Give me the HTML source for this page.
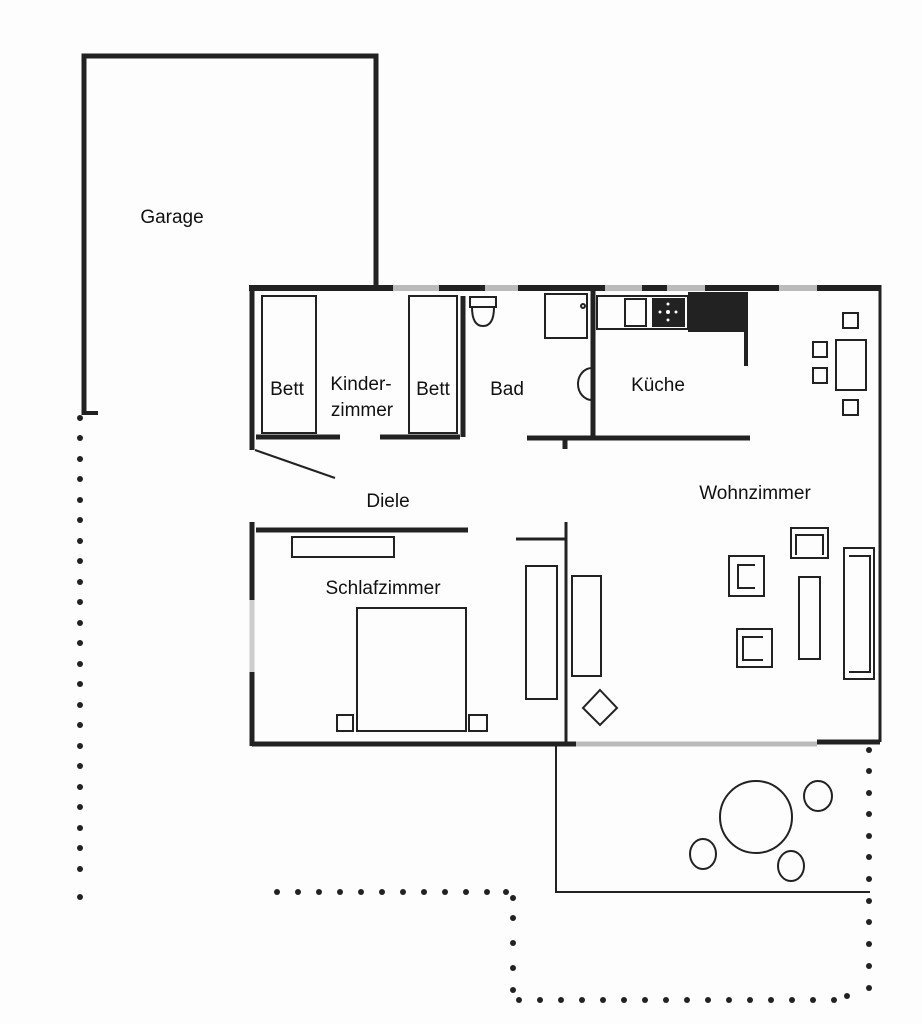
<!DOCTYPE html>
<html><head><meta charset="utf-8"><style>
html,body{margin:0;padding:0;background:#fff;}
svg{display:block}
text{font-family:"Liberation Sans",Arial,sans-serif;font-size:19px;fill:#111}
</style></head><body>
<svg width="922" height="1024" viewBox="0 0 922 1024" xmlns="http://www.w3.org/2000/svg">
<rect width="922" height="1024" fill="#fdfdfd"/>
<g stroke="#222" fill="none">
<!-- Garage -->
<path d="M84 415 V56 H376 V286" stroke-width="5"/>
<line x1="84" y1="413" x2="98" y2="413" stroke-width="4"/>
<!-- top wall -->
<g stroke-width="6">
<line x1="249" y1="288" x2="393" y2="288"/>
<line x1="439" y1="288" x2="485" y2="288"/>
<line x1="518" y1="288" x2="605" y2="288"/>
<line x1="642" y1="288" x2="667" y2="288"/>
<line x1="705" y1="288" x2="779" y2="288"/>
<line x1="817" y1="288" x2="880" y2="288"/>
</g>
<g stroke="#bbb" stroke-width="6">
<line x1="393" y1="288" x2="439" y2="288"/>
<line x1="485" y1="288" x2="518" y2="288"/>
<line x1="605" y1="288" x2="642" y2="288"/>
<line x1="667" y1="288" x2="705" y2="288"/>
<line x1="779" y1="288" x2="817" y2="288"/>
</g>
<!-- right wall -->
<line x1="880" y1="285" x2="880" y2="742" stroke-width="3"/>
<!-- left upper wall -->
<line x1="252" y1="286" x2="252" y2="450" stroke-width="5"/>
<!-- inner walls -->
<g stroke-width="5">
<line x1="256" y1="437" x2="340" y2="437"/>
<line x1="380" y1="437" x2="460" y2="437"/>
<line x1="463" y1="296" x2="463" y2="437"/>
<line x1="527" y1="438" x2="750" y2="438"/>
<line x1="565" y1="438" x2="565" y2="449"/>
<line x1="593" y1="291" x2="593" y2="438"/>
<line x1="252" y1="522" x2="252" y2="600"/>
<line x1="252" y1="672" x2="252" y2="746"/>
<line x1="256" y1="530" x2="468" y2="530"/>
<line x1="252" y1="744" x2="576" y2="744"/>
<line x1="817" y1="742" x2="880" y2="742"/>
</g>
<line x1="252" y1="600" x2="252" y2="672" stroke="#ccc" stroke-width="5"/>
<line x1="576" y1="744" x2="817" y2="744" stroke="#bbb" stroke-width="5"/>
<line x1="516" y1="539" x2="566" y2="539" stroke-width="3"/>
<line x1="566" y1="522" x2="566" y2="744" stroke-width="3"/>
<line x1="255" y1="450" x2="335" y2="478" stroke-width="2"/>
<!-- beds kinder -->
<g stroke-width="2">
<rect x="262" y="296" width="54" height="137"/>
<rect x="409" y="296" width="48" height="137"/>
<!-- toilet -->
<rect x="470" y="297" width="26" height="10"/>
<path d="M472 307 Q472 326 483 326 Q494 326 494 307"/>
<!-- shower -->
<rect x="545" y="294" width="42" height="44"/>
<circle cx="583" cy="306" r="2"/>
<!-- sink -->
<path d="M592 368 A14 16 0 0 0 592 400"/>
<!-- kitchen -->
<rect x="597" y="296" width="91" height="33"/>
<rect x="625" y="299" width="21" height="27"/>
<line x1="746" y1="292" x2="746" y2="366" stroke-width="4"/>
<!-- dining -->
<rect x="836" y="340" width="30" height="50"/>
<rect x="843" y="313" width="15" height="15"/>
<rect x="813" y="342" width="14" height="15"/>
<rect x="813" y="368" width="14" height="15"/>
<rect x="843" y="400" width="15" height="15"/>
<!-- schlaf -->
<rect x="292" y="537" width="102" height="20"/>
<rect x="357" y="608" width="109" height="123"/>
<rect x="337" y="715" width="16" height="16"/>
<rect x="469" y="715" width="18" height="16"/>
<rect x="526" y="566" width="31" height="133"/>
<rect x="572" y="576" width="29" height="100"/>
<path d="M600 690 L617 708 L600 725 L583 708 Z"/>
<!-- living -->
<rect x="729" y="556" width="35" height="40"/>
<path d="M755 565 H738 V588 H755"/>
<rect x="791" y="528" width="37" height="30"/>
<path d="M796 555 V535 H823 V555"/>
<rect x="737" y="629" width="35" height="38"/>
<path d="M763 637 H743 V660 H763"/>
<rect x="799" y="577" width="21" height="82"/>
<rect x="844" y="548" width="30" height="131"/>
<path d="M849 556 H870 V672 H849"/>
<!-- terrace -->
<path d="M556 745 V892 H870"/>
<circle cx="756" cy="817" r="36"/>
<ellipse cx="818" cy="796" rx="14" ry="15"/>
<ellipse cx="703" cy="854" rx="13" ry="15"/>
<ellipse cx="791" cy="866" rx="13" ry="15"/>
</g>
</g>
<rect x="652" y="298" width="33" height="29" fill="#222"/>
<circle cx="668" cy="312" r="2" fill="#fff"/><circle cx="660" cy="312" r="1.5" fill="#fff"/><circle cx="676" cy="312" r="1.5" fill="#fff"/><circle cx="668" cy="304" r="1.5" fill="#fff"/><circle cx="668" cy="320" r="1.5" fill="#fff"/>
<rect x="688" y="292" width="60" height="40" fill="#222"/>
<!-- dots -->
<g fill="#222" id="dots">
<circle cx="80" cy="418" r="3"/><circle cx="80" cy="438" r="3"/><circle cx="80" cy="459" r="3"/><circle cx="80" cy="479" r="3"/><circle cx="80" cy="500" r="3"/><circle cx="80" cy="520" r="3"/><circle cx="80" cy="541" r="3"/><circle cx="80" cy="561" r="3"/><circle cx="80" cy="582" r="3"/><circle cx="80" cy="602" r="3"/><circle cx="80" cy="623" r="3"/><circle cx="80" cy="643" r="3"/><circle cx="80" cy="664" r="3"/><circle cx="80" cy="684" r="3"/><circle cx="80" cy="705" r="3"/><circle cx="80" cy="725" r="3"/><circle cx="80" cy="746" r="3"/><circle cx="80" cy="766" r="3"/><circle cx="80" cy="787" r="3"/><circle cx="80" cy="807" r="3"/><circle cx="80" cy="828" r="3"/><circle cx="80" cy="848" r="3"/><circle cx="80" cy="869" r="3"/><circle cx="80" cy="897" r="3"/>
<circle cx="277" cy="892" r="3"/><circle cx="298" cy="892" r="3"/><circle cx="319" cy="892" r="3"/><circle cx="340" cy="892" r="3"/><circle cx="361" cy="892" r="3"/><circle cx="382" cy="892" r="3"/><circle cx="403" cy="892" r="3"/><circle cx="424" cy="892" r="3"/><circle cx="445" cy="892" r="3"/><circle cx="466" cy="892" r="3"/><circle cx="487" cy="892" r="3"/><circle cx="506" cy="892" r="3"/>
<circle cx="513" cy="898" r="3"/><circle cx="513" cy="918" r="3"/><circle cx="513" cy="943" r="3"/><circle cx="513" cy="968" r="3"/><circle cx="513" cy="990" r="3"/>
<circle cx="519" cy="1000" r="3"/><circle cx="540" cy="1000" r="3"/><circle cx="561" cy="1000" r="3"/><circle cx="582" cy="1000" r="3"/><circle cx="603" cy="1000" r="3"/><circle cx="624" cy="1000" r="3"/><circle cx="645" cy="1000" r="3"/><circle cx="666" cy="1000" r="3"/><circle cx="687" cy="1000" r="3"/><circle cx="708" cy="1000" r="3"/><circle cx="729" cy="1000" r="3"/><circle cx="750" cy="1000" r="3"/><circle cx="771" cy="1000" r="3"/><circle cx="792" cy="1000" r="3"/><circle cx="813" cy="1000" r="3"/><circle cx="834" cy="1000" r="3"/><circle cx="847" cy="996" r="3"/>
<circle cx="869" cy="750" r="3"/><circle cx="869" cy="771" r="3"/><circle cx="869" cy="793" r="3"/><circle cx="869" cy="814" r="3"/><circle cx="869" cy="836" r="3"/><circle cx="869" cy="857" r="3"/><circle cx="869" cy="879" r="3"/><circle cx="869" cy="901" r="3"/><circle cx="869" cy="922" r="3"/><circle cx="869" cy="944" r="3"/><circle cx="869" cy="966" r="3"/><circle cx="869" cy="988" r="3"/>
</g>
<!-- labels -->
<text x="172" y="223" text-anchor="middle">Garage</text>
<text x="287" y="395" text-anchor="middle">Bett</text>
<text x="433" y="395" text-anchor="middle">Bett</text>
<text x="361" y="390" text-anchor="middle">Kinder-</text>
<text x="362" y="416" text-anchor="middle">zimmer</text>
<text x="507" y="395" text-anchor="middle">Bad</text>
<text x="658" y="391" text-anchor="middle">Küche</text>
<text x="388" y="507" text-anchor="middle">Diele</text>
<text x="755" y="499" text-anchor="middle">Wohnzimmer</text>
<text x="383" y="594" text-anchor="middle">Schlafzimmer</text>
</svg>
</body></html>
